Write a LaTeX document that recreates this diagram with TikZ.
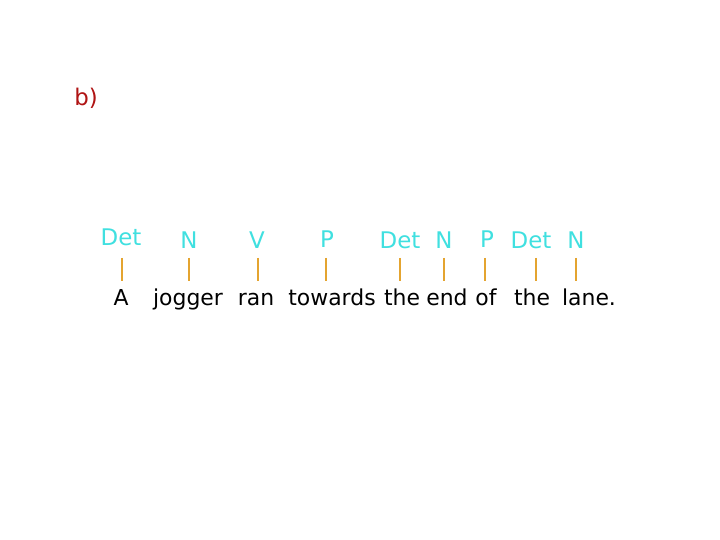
\documentclass[tikz,border=0pt]{standalone}
\usepackage{fontspec}
\setmainfont{DejaVu Sans}
\definecolor{tagcyan}{RGB}{64,224,224}
\definecolor{barorange}{RGB}{228,164,48}
\definecolor{labelred}{RGB}{176,20,20}
\begin{document}
\begin{tikzpicture}
        [x=1bp, y=-1bp,
        tag/.style={text=tagcyan, font=\fontsize{23}{26}\selectfont, anchor=base, inner sep=0pt},
        word/.style={text=black, font=\fontsize{22}{26}\selectfont, anchor=base, inner sep=0pt},
        bar/.style={draw=barorange, line width=1.6bp}]
        \useasboundingbox (0,0) rectangle (720,540);
        \fill[white] (0,0) rectangle (720,540);
        \node[text=labelred, font=\fontsize{23}{26}\selectfont, anchor=base, inner sep=0pt] (part) at (86,106) {b)};

        % part-of-speech tags
        \node[tag] (det1) at (121,246) {Det};
        \node[tag] (n1) at (189,249) {N};
        \node[tag] (v1) at (257,249) {V};
        \node[tag] (p1) at (327,248) {P};
        \node[tag] (det2) at (400,249) {Det};
        \node[tag] (n2) at (444,249) {N};
        \node[tag] (p2) at (487,248) {P};
        \node[tag] (det3) at (531,249) {Det};
        \node[tag] (n3) at (576,249) {N};

        % words
        \node[word] (wA) at (121,305) {A};
        \node[word] (wjogger) at (188,305) {jogger};
        \node[word] (wran) at (256,305) {ran};
        \node[word] (wtowards) at (332,305) {towards};
        \node[word] (wthe1) at (402,305) {the};
        \node[word] (wend) at (447,305) {end};
        \node[word] (wof) at (486,305) {of};
        \node[word] (wthe2) at (532,305) {the};
        \node[word] (wlane) at (589,305) {lane.};

        % bars between tags and words
        \foreach \name/\x in {det1/122, n1/189, v1/258, p1/326, det2/400, n2/444, p2/485, det3/536, n3/576} {
            \coordinate (top-\name) at (\x,258);
            \coordinate (bot-\name) at (\x,281);
            \draw[bar] (top-\name) -- (bot-\name);
        }
    \end{tikzpicture}
\end{document}
